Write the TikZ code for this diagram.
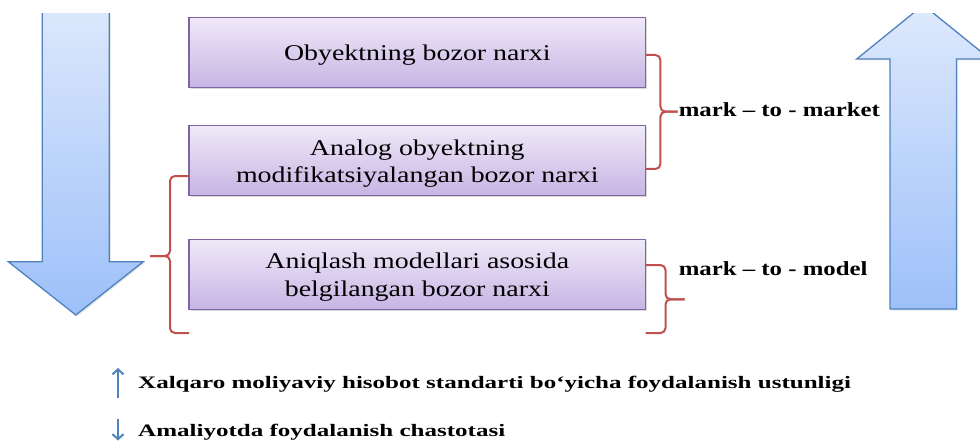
\documentclass[tikz,border=0pt]{standalone}
\usepackage{fontspec}
\setmainfont{Liberation Serif}
\newfontfamily\boxfont[FakeStretch=1.24]{Liberation Serif}
\newfontfamily\markfont[FakeStretch=1.24]{Liberation Serif}
\newfontfamily\legfont[FakeStretch=1.43]{Liberation Serif}
\usetikzlibrary{arrows.meta,shadows}
\definecolor{arrowtop}{RGB}{222,233,252}
\definecolor{arrowbot}{RGB}{157,192,249}
\definecolor{arrowline}{RGB}{79,129,189}
\definecolor{boxtop}{RGB}{239,233,248}
\definecolor{boxbot}{RGB}{199,181,228}
\definecolor{boxline}{RGB}{128,100,162}
\definecolor{bracered}{RGB}{192,80,77}
\begin{document}
\begin{tikzpicture}[x=1pt,y=-1pt,
  bigarrow/.style={draw=arrowline,line width=1.3pt,top color=arrowtop,bottom color=arrowbot,line join=miter,
    drop shadow={opacity=0.18,shadow xshift=1.5pt,shadow yshift=-1.5pt}},
  pbox/.style={draw=boxline,line width=1.1pt,top color=boxtop,bottom color=boxbot,
    minimum width=456.6pt,minimum height=70pt,inner sep=0pt,outer sep=0pt,
    drop shadow={opacity=0.3,shadow xshift=1.5pt,shadow yshift=-1.5pt}},
  btext/.style={font=\boxfont\fontsize{22.5}{27}\selectfont,inner sep=0pt,anchor=base},
  mtext/.style={font=\markfont\bfseries\fontsize{20}{24}\selectfont,inner sep=0pt,anchor=base west},
  ltext/.style={font=\legfont\bfseries\fontsize{17.5}{21}\selectfont,inner sep=0pt,anchor=base west},
  brace/.style={draw=bracered,line width=2pt,rounded corners=5pt},
  legarrow/.style={draw=arrowline,line width=2pt,-{Straight Barb[length=5pt,width=11pt]}}]
\useasboundingbox (0,0) rectangle (980,441);

% big arrows, cut at the top
\begin{scope}
\clip (0,13.3) rectangle (980,441);
\path[bigarrow] (42.3,0) -- (109.3,0) -- (109.3,261.7) -- (143.3,261.7) -- (75.8,315)
  -- (8.3,261.7) -- (42.3,261.7) -- cycle;
\path[bigarrow] (890,309) -- (956.5,309) -- (956.5,59) -- (990,59) -- (923.3,5)
  -- (856.7,59) -- (890,59) -- cycle;
\end{scope}

% boxes
\node[pbox] (b1) at (417.3,52.3) {};
\node[pbox,minimum height=69.3pt] (b2) at (417.3,160.4) {};
\node[pbox] (b3) at (417.3,274.3) {};

\node[btext] (t1) at (417.3,61) {Obyektning bozor narxi};
\node[btext] (t2a) at (417.3,156) {Analog obyektning};
\node[btext] (t2b) at (417.3,182.7) {modifikatsiyalangan bozor narxi};
\node[btext] (t3a) at (417.3,268) {Aniqlash modellari asosida};
\node[btext] (t3b) at (417.3,296) {belgilangan bozor narxi};

% braces
\draw[brace] (b1.east |- 0,55) -- (660.4,55) -- (660.4,111.7) -- (677.6,111.7);
\draw[brace] (677.6,111.7) -- (660.4,111.7) -- (660.4,169) -- (b2.east |- 0,169);
\draw[brace] (b3.east |- 0,265) -- (665.5,265) -- (665.5,299.3) -- (684.5,299.3);
\draw[brace] (684.5,299.3) -- (665.5,299.3) -- (665.5,333) -- (b3.east |- 0,333);
\draw[brace] (b2.west |- 0,176) -- (170,176) -- (170,256) -- (150,256);
\draw[brace] (150,256) -- (170,256) -- (170,333) -- (b3.west |- 0,333);

\node[mtext] (m1) at (678.6,116.7) {mark – to - market};
\node[mtext] (m2) at (678.6,275) {mark – to - model};

% legend
\coordinate (u0) at (118,398);
\coordinate (u1) at (118,368);
\coordinate (d0) at (118,419);
\coordinate (d1) at (118,440.5);
\draw[legarrow] (u0) -- (u1);
\draw[legarrow] (d0) -- (d1);
\node[ltext] (lg1) at (138,388) {Xalqaro moliyaviy hisobot standarti bo‘yicha foydalanish ustunligi};
\node[ltext] (lg2) at (138,436.7) {Amaliyotda foydalanish chastotasi};
\end{tikzpicture}
\end{document}
